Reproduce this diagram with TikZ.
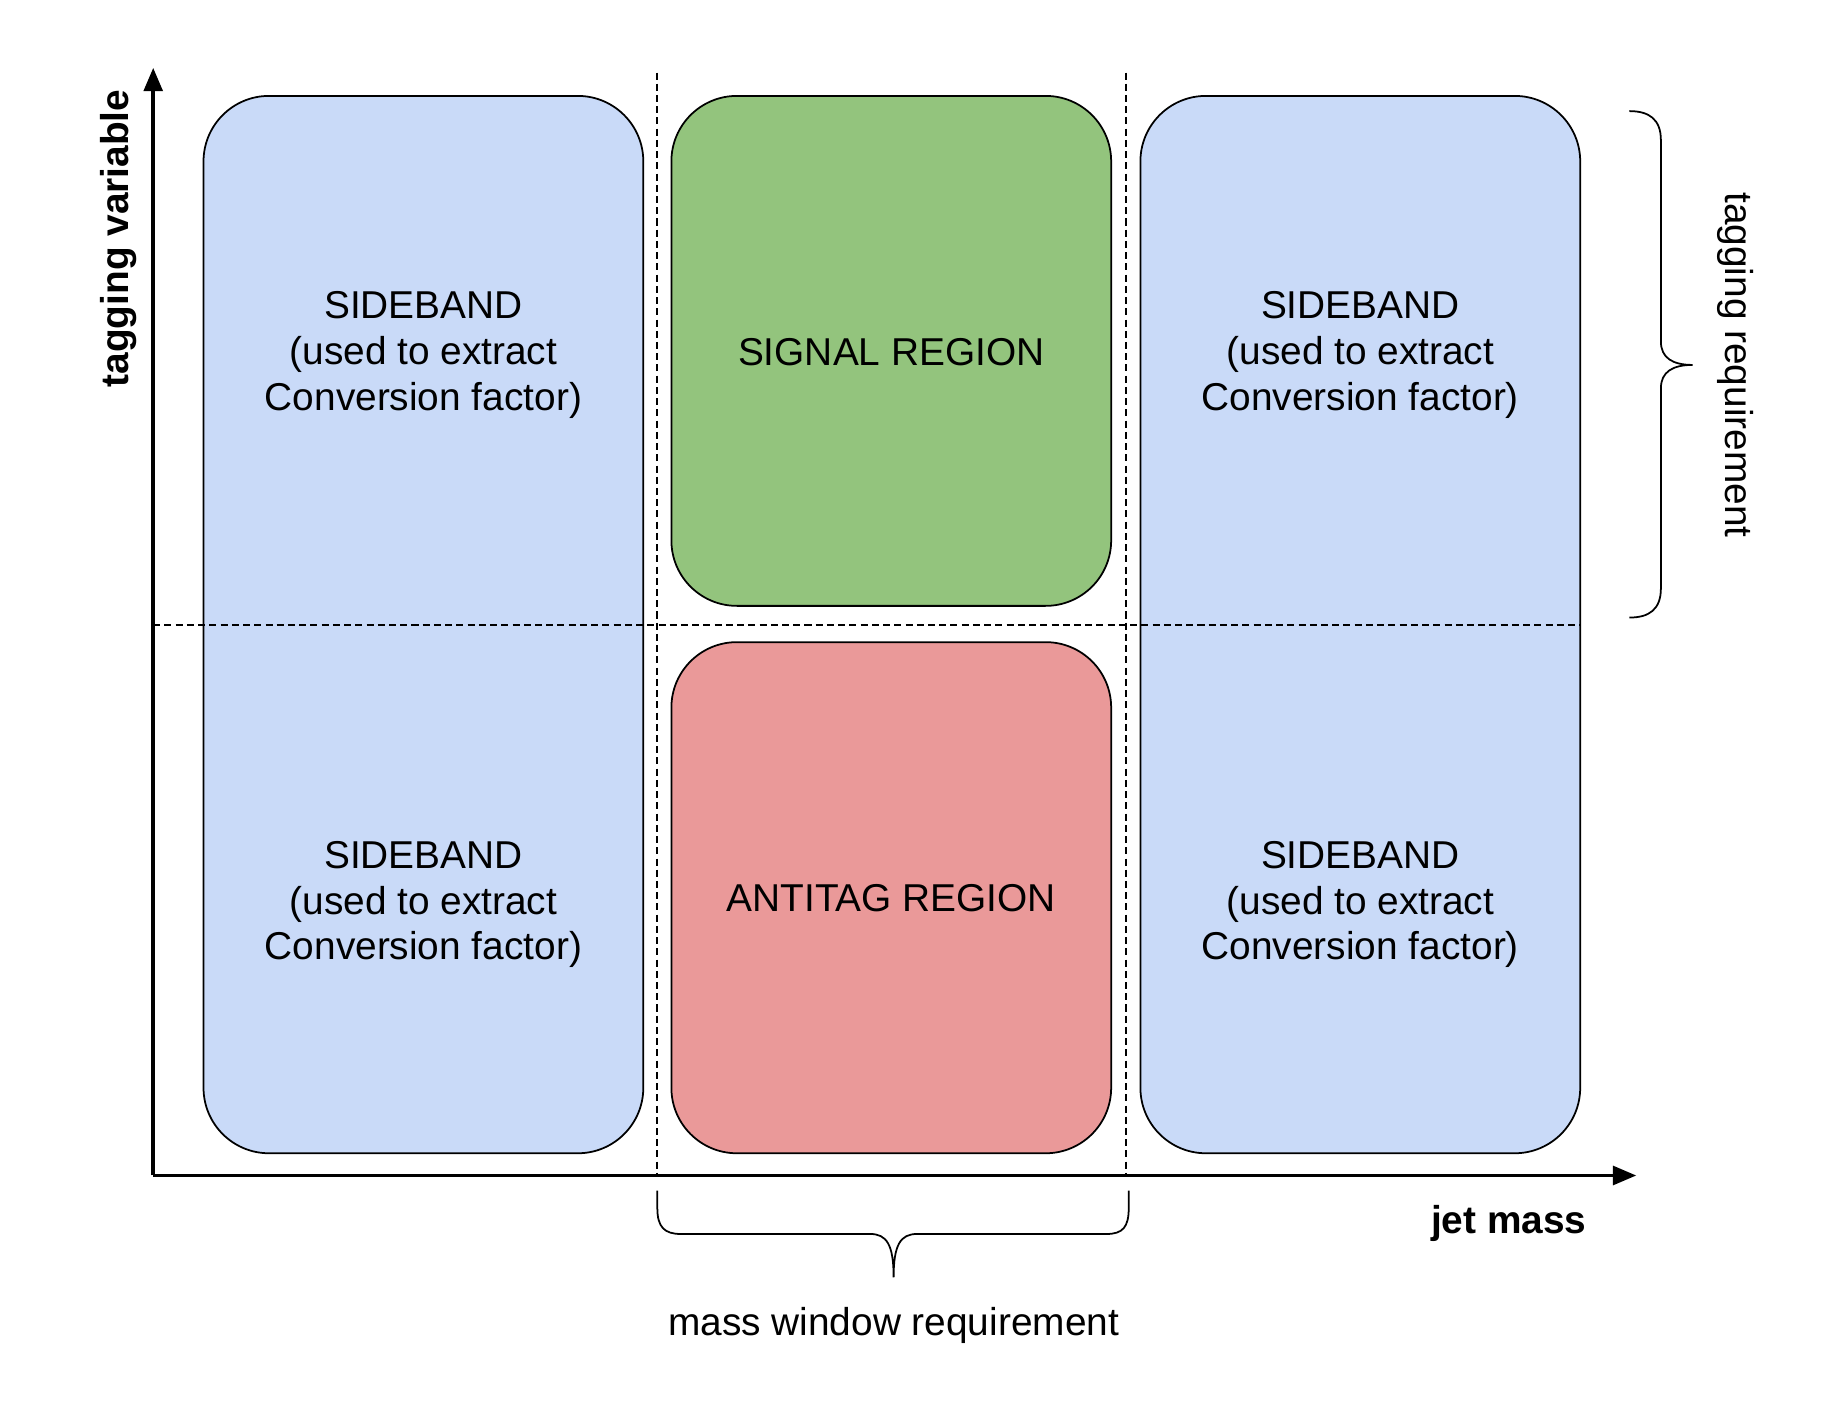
\documentclass[tikz,border=0pt]{standalone}
\usepackage{fontspec}
\setmainfont{Liberation Sans}
\usetikzlibrary{arrows.meta}
\definecolor{sideblue}{HTML}{C9DAF8}
\definecolor{siggreen}{HTML}{93C47D}
\definecolor{antired}{HTML}{EA9999}
\begin{document}
\begin{tikzpicture}[x=0.5pt,y=-0.5pt,
  region/.style={draw=black,line width=0.75pt,rounded corners=28pt,inner sep=0pt,outer sep=0pt,minimum width=188pt},
  lbl/.style={font=\fontsize{16.6}{19.5}\selectfont,align=center,inner sep=0pt},
  blbl/.style={font=\fontsize{16.6}{19.5}\selectfont\bfseries,inner sep=0pt},
  axis/.style={line width=1.6pt,-{Triangle[length=10pt,width=8pt]}},
  guide/.style={line width=0.8pt,dash pattern=on 3pt off 1.8pt},
  bracestyle/.style={line width=0.75pt}]
\useasboundingbox (0,0) rectangle (1568,1197);
% regions
\node[region,fill=sideblue,minimum height=452pt] (lsb) at (362,534) {};
\node[region,fill=sideblue,minimum height=452pt] (rsb) at (1163,534) {};
\node[region,fill=siggreen,minimum height=218pt] (sig) at (762,300) {};
\node[region,fill=antired,minimum height=218.5pt] (anti) at (762,767.5) {};
% texts
\node[lbl] (tl) at (362,303.5) {SIDEBAND\\(used to extract\\Conversion factor)};
\node[lbl] (bl) at (362,773.5) {SIDEBAND\\(used to extract\\Conversion factor)};
\node[lbl] (tr) at (1163,303.5) {SIDEBAND\\(used to extract\\Conversion factor)};
\node[lbl] (br) at (1163,773.5) {SIDEBAND\\(used to extract\\Conversion factor)};
\node[lbl] (sigt) at (762,301) {SIGNAL REGION};
\node[lbl] (antit) at (762,768) {ANTITAG REGION};
% guide lines
\coordinate (v1t) at (562,62); \coordinate (v1b) at (562,1005);
\coordinate (v2t) at (963,62); \coordinate (v2b) at (963,1005);
\coordinate (hl) at (131,534); \coordinate (hr) at (1351,534);
\draw[guide] (v1t) -- (v1b);
\draw[guide] (v2t) -- (v2b);
\draw[guide] (hl) -- (hr);
% axes
\coordinate (O) at (131,1005);
\coordinate (ytip) at (131,58);
\coordinate (xtip) at (1399,1005);
\draw[axis] (O) -- (ytip);
\draw[axis] (O) -- (xtip);
\node[blbl,rotate=90] (ylab) at (101,204) {tagging variable};
\node[blbl] (xlab) at (1290,1046) {jet mass};
% right brace
\draw[bracestyle] (1393,95) .. controls (1410,95) and (1420,102) .. (1420,120) -- (1420,292)
  .. controls (1420,306) and (1430,312) .. (1447,312)
  .. controls (1430,312) and (1420,318) .. (1420,332) -- (1420,503)
  .. controls (1420,521) and (1410,528) .. (1393,528);
\node[lbl,rotate=-90] (treq) at (1484,312) {tagging requirement};
% bottom brace
\draw[bracestyle] (562,1018) -- (562,1033) .. controls (562,1049) and (568,1055) .. (582,1055) -- (744,1055)
  .. controls (758,1055) and (764,1064) .. (764,1092)
  .. controls (764,1064) and (770,1055) .. (784,1055) -- (946,1055)
  .. controls (960,1055) and (965,1049) .. (965,1033) -- (965,1018);
\node[lbl] (mreq) at (764,1133) {mass window requirement};
\end{tikzpicture}
\end{document}
